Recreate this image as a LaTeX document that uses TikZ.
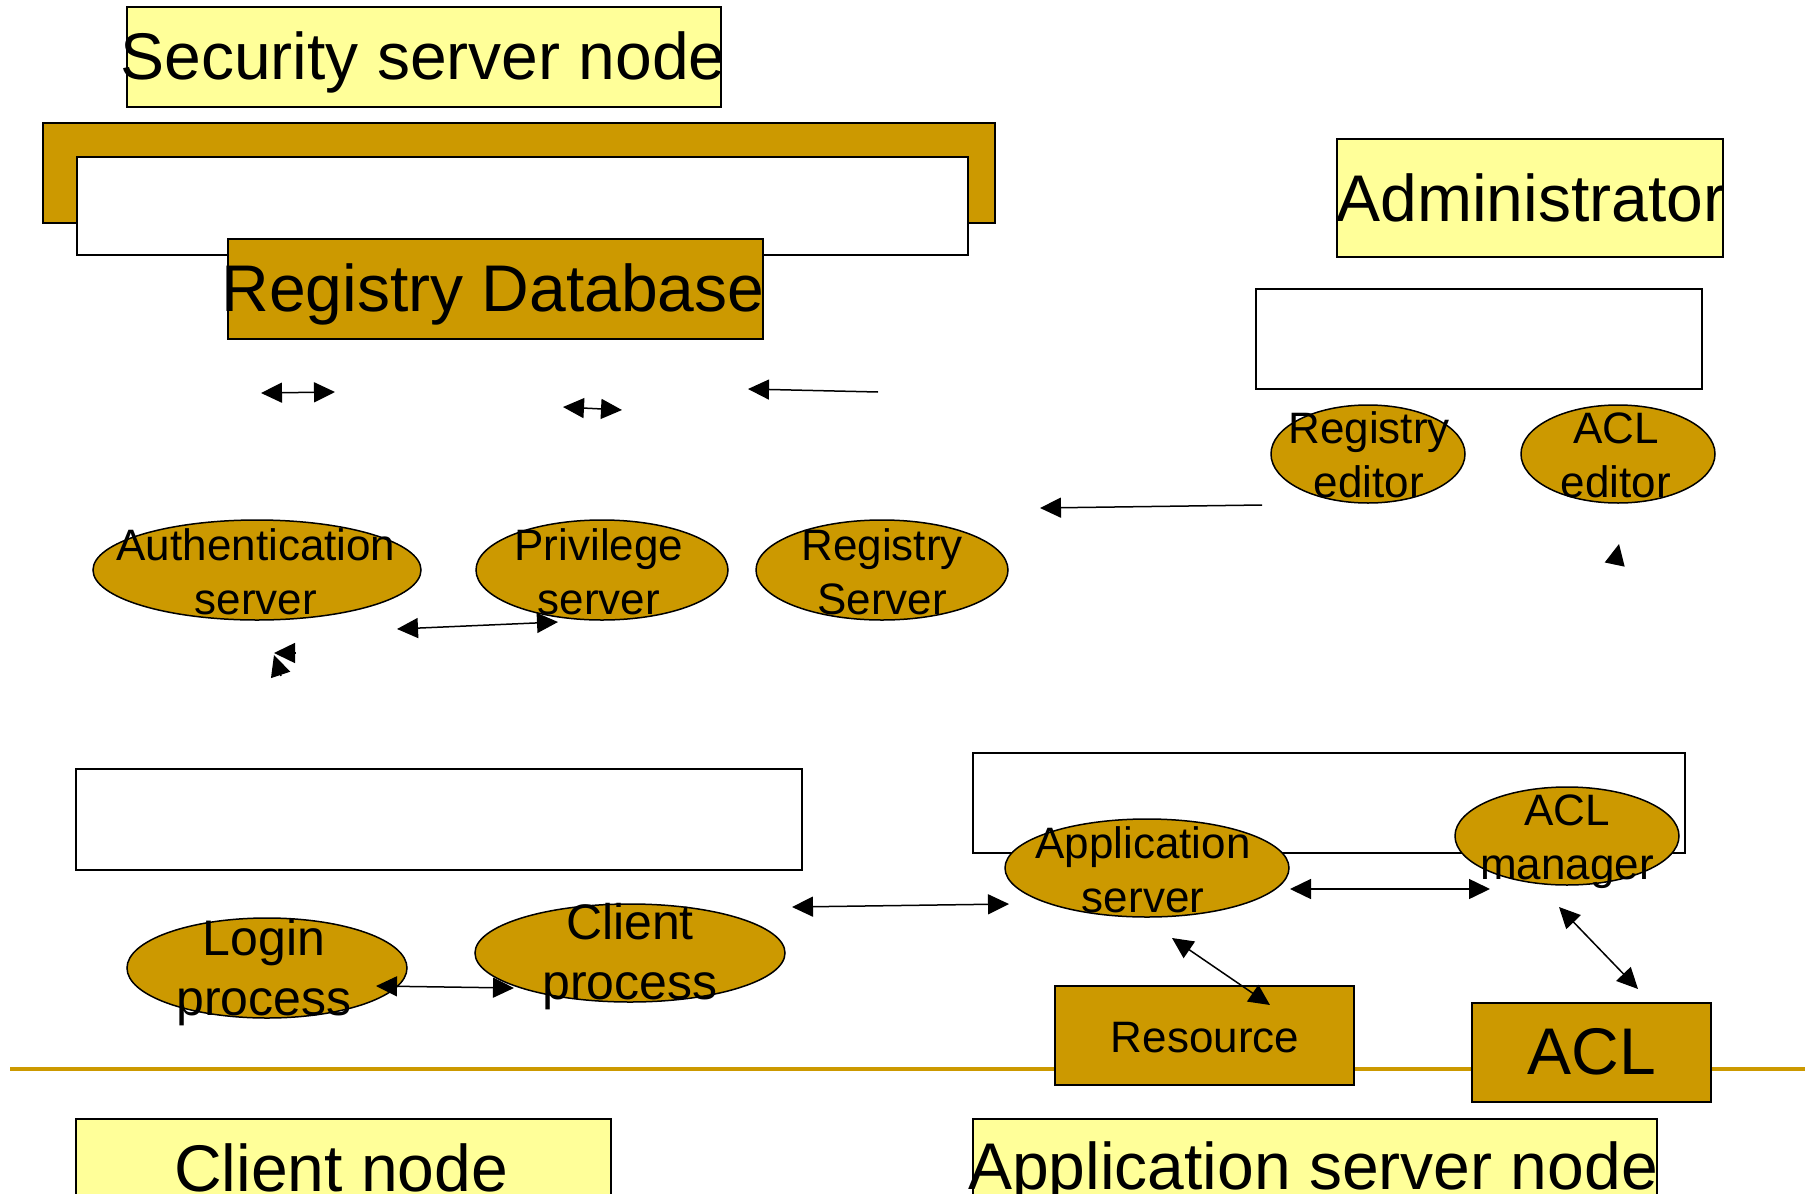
\documentclass[tikz,border=0pt]{standalone}
\usepackage{fontspec}
\setmainfont{Liberation Sans}
\usetikzlibrary{arrows.meta,shapes.geometric}
\definecolor{gold}{HTML}{CC9900}
\definecolor{pale}{HTML}{FFFF99}
\newcommand\ps{\rule[-0.212em]{0pt}{1.117em}}
\tikzset{
  box/.style={rectangle, draw=black, line width=1.5pt, inner sep=0pt},
  ybox/.style={box, fill=pale},
  gbox/.style={box, fill=gold},
  wbox/.style={box, fill=white},
  proc/.style={ellipse, draw=black, line width=1.5pt, fill=gold, inner sep=0pt},
  ttbig/.style={font=\fontsize{66}{79}\selectfont, inner sep=0pt},
  ttmid/.style={font=\fontsize{44}{54}\selectfont, inner sep=0pt, align=center},
  ttlg/.style={font=\fontsize{50}{60}\selectfont, inner sep=0pt, align=center},
  tip/.tip={Triangle[length=21pt,width=20pt]},
  conn/.style={line width=1.5pt, tip-tip},
  conna/.style={line width=1.5pt, -tip},
}
\begin{document}
\begin{tikzpicture}[x=1pt,y=-1pt]
\useasboundingbox (0,0) rectangle (1805,1194);
\clip (0,0) rectangle (1805,1194);

% divider line
\coordinate (dvL) at (10,1069);
\coordinate (dvR) at (1805,1069);
\draw[gold, line width=4.5pt] (dvL) -- (dvR);

% security server node
\node[ybox, minimum width=594pt, minimum height=100pt] (sec) at (424,57) {};
\node[ttbig] (secT) at (423,57) {Security server node\ps};
\node[gbox, minimum width=952pt, minimum height=100pt] (brk) at (519,173) {};
\node[wbox, minimum width=891pt, minimum height=98pt] (secW) at (522.5,206) {};
\node[gbox, minimum width=535pt, minimum height=100pt] (rdb) at (495.5,289) {};
\node[ttbig] (rdbT) at (493,289) {Registry Database\ps};

\node[proc, minimum width=328pt, minimum height=100pt] (auth) at (257,570) {};
\node[ttmid] (authT) at (256,572) {Authentication\ps\\server\ps};
\node[proc, minimum width=252pt, minimum height=100pt] (priv) at (602,570) {};
\node[ttmid] (privT) at (599,572) {Privilege\ps\\server\ps};
\node[proc, minimum width=252pt, minimum height=100pt] (rsrv) at (882,570) {};
\node[ttmid] (rsrvT) at (882,572) {Registry\ps\\Server\ps};

% administrator
\node[ybox, minimum width=386pt, minimum height=118pt] (adm) at (1530,198) {};
\node[ttbig] (admT) at (1531,199) {Administrator\ps};
\node[wbox, minimum width=446pt, minimum height=100pt] (admW) at (1479,339) {};
\node[proc, minimum width=194pt, minimum height=98pt] (red) at (1368,454) {};
\node[ttmid] (redT) at (1369,455) {Registry\ps\\editor\ps};
\node[proc, minimum width=194pt, minimum height=98pt] (aed) at (1618,454) {};
\node[ttmid] (aedT) at (1616,455) {ACL\ps\\editor\ps};

% client node
\node[wbox, minimum width=726pt, minimum height=101pt] (cliW) at (439,819.5) {};
\node[proc, minimum width=280pt, minimum height=100pt] (login) at (267,968) {};
\node[ttlg] (loginT) at (264,968) {Login\ps\\process\ps};
\node[proc, minimum width=310pt, minimum height=98pt] (cproc) at (630,953) {};
\node[ttlg] (cprocT) at (630,952) {Client\ps\\process\ps};
\node[ybox, minimum width=535pt, minimum height=100pt] (cnode) at (343.5,1169) {};
\node[ttbig] (cnodeT) at (341,1169) {Client node\ps};

% application server node
\node[wbox, minimum width=712pt, minimum height=100pt] (appW) at (1329,803) {};
\node[proc, minimum width=284pt, minimum height=98pt] (asrv) at (1147,868) {};
\node[ttmid] (asrvT) at (1143,870) {Application\ps\\server\ps};
\node[proc, minimum width=224pt, minimum height=98pt] (amgr) at (1567,836) {};
\node[ttmid] (amgrT) at (1567,837) {ACL\ps\\manager\ps};
\node[gbox, minimum width=299pt, minimum height=99pt] (res) at (1204.5,1035.5) {};
\node[ttmid] (resT) at (1205,1037) {Resource\ps};
\node[gbox, minimum width=239pt, minimum height=99pt] (acl) at (1591.5,1052.5) {};
\node[ttbig] (aclT) at (1592,1052) {ACL\ps};
\node[ybox, minimum width=684pt, minimum height=100pt] (anode) at (1315,1169) {};
\node[ttbig] (anodeT) at (1313,1167) {Application server node\ps};

% connectors
\coordinate (a1s) at (261,393); \coordinate (a1e) at (335,392);
\draw[conn] (a1s) -- (a1e);
\coordinate (a2s) at (563,407); \coordinate (a2e) at (622,410);
\draw[conn] (a2s) -- (a2e);
\coordinate (a3s) at (878,392); \coordinate (a3e) at (748,389);
\draw[conna] (a3s) -- (a3e);
\coordinate (a4s) at (1262,505); \coordinate (a4e) at (1040,508);
\draw[conna] (a4s) -- (a4e);
\coordinate (a5s) at (397,629); \coordinate (a5e) at (558,622);
\draw[conn] (a5s) -- (a5e);
\coordinate (h1s) at (296,653); \coordinate (h1e) at (274,653);
\draw[conna] (h1s) -- (h1e);
\coordinate (h2s) at (281,676); \coordinate (h2e) at (274,655);
\draw[conna] (h2s) -- (h2e);
\coordinate (h3s) at (1615,563); \coordinate (h3e) at (1619,544);
\draw[conna] (h3s) -- (h3e);
\coordinate (a6s) at (376,986); \coordinate (a6e) at (514,988);
\draw[conn] (a6s) -- (a6e);
\coordinate (a7s) at (792,907); \coordinate (a7e) at (1009,904);
\draw[conn] (a7s) -- (a7e);
\coordinate (a8s) at (1290,889); \coordinate (a8e) at (1490,889);
\draw[conn] (a8s) -- (a8e);
\coordinate (a9s) at (1172,938); \coordinate (a9e) at (1270,1005);
\draw[conn] (a9s) -- (a9e);
\coordinate (a10s) at (1559,907); \coordinate (a10e) at (1638,989);
\draw[conn] (a10s) -- (a10e);
\end{tikzpicture}
\end{document}
